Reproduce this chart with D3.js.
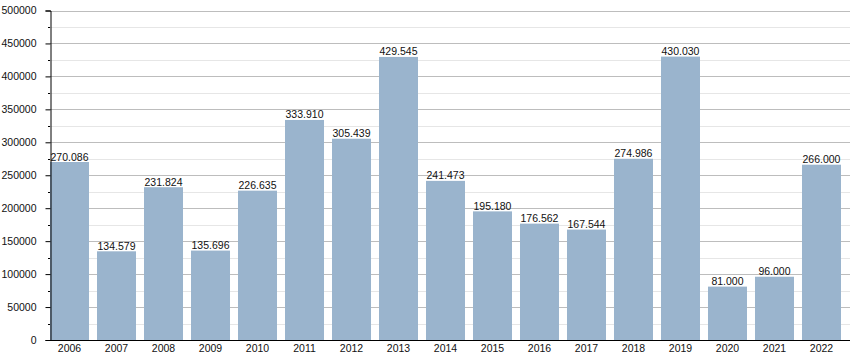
<!DOCTYPE html>
<html><head><meta charset="utf-8">
<script src="https://cdn.jsdelivr.net/npm/d3@7"></script>
<style>body{margin:0;background:#fff}svg{display:block}text{font-family:"Liberation Sans",Arial,sans-serif}</style>
</head><body>
<svg id="c" width="850" height="360"></svg>
<script>
const years = ["2006","2007","2008","2009","2010","2011","2012","2013","2014","2015","2016","2017","2018","2019","2020","2021","2022"];
const values = [270086,134579,231824,135696,226635,333910,305439,429545,241473,195180,176562,167544,274986,430030,81000,96000,266000];
const yTicks = [0,50000,100000,150000,200000,250000,300000,350000,400000,450000,500000];
const yMinor = [25000,75000,125000,175000,225000,275000,325000,375000,425000,475000];

const svg = d3.select("#c");
const L = 50, R = 850, T = 10.5, B = 340;
const FS = 10.5;
const x = d3.scaleBand().domain(years).range([L, 841]).paddingInner(0.17).paddingOuter(0);
const y = d3.scaleLinear().domain([0, 500000]).range([B, T]);

// minor grid
svg.append("g").selectAll("line").data(yMinor).join("line")
  .attr("x1", L).attr("x2", R).attr("y1", d => Math.round(y(d))+0.5).attr("y2", d => Math.round(y(d))+0.5)
  .attr("stroke", "#e6e6e6").attr("stroke-width", 1);
// major grid
svg.append("g").selectAll("line").data(yTicks.slice(1)).join("line")
  .attr("x1", L).attr("x2", R).attr("y1", d => Math.round(y(d))+0.5).attr("y2", d => Math.round(y(d))+0.5)
  .attr("stroke", "#bdbdbd").attr("stroke-width", 1);

// bars
svg.append("g").selectAll("rect").data(values).join("rect")
  .attr("x", (d,i) => x(years[i])).attr("width", x.bandwidth())
  .attr("y", d => y(d)).attr("height", d => B - y(d))
  .attr("fill", "#9ab4cd");

// value labels
const fmt = d3.formatLocale({decimal: ",", thousands: ".", grouping: [3], currency: ["",""]}).format(",d");
svg.append("g").selectAll("text").data(values).join("text")
  .attr("x", (d,i) => x(years[i]) + x.bandwidth()/2).attr("y", d => y(d) - 1.5)
  .attr("text-anchor", "middle").attr("font-size", FS).attr("fill", "#111")
  .text(d => fmt(d));

// y axis
const ya = svg.append("g").attr("transform", `translate(${L+0.5},0)`)
  .call(d3.axisLeft(y).tickValues(yTicks).tickSize(5).tickPadding(9).tickFormat(d3.format("d")));
ya.select(".domain").attr("stroke", "#000");
ya.selectAll(".tick line").attr("stroke", "#000");
ya.selectAll("text").attr("font-size", FS).attr("fill", "#111").style("font-family", '"Liberation Sans",Arial,sans-serif');
svg.append("g").selectAll("line").data(yMinor).join("line")
  .attr("x1", L-2).attr("x2", L).attr("y1", d => Math.round(y(d))+0.5).attr("y2", d => Math.round(y(d))+0.5)
  .attr("stroke", "#000");

// x axis
svg.append("line").attr("x1", L).attr("x2", R).attr("y1", B+0.5).attr("y2", B+0.5).attr("stroke", "#000");
svg.append("g").selectAll("text").data(years).join("text")
  .attr("x", d => x(d) + x.bandwidth()/2).attr("y", 352)
  .attr("text-anchor", "middle").attr("font-size", FS).attr("fill", "#111")
  .text(d => d);
</script>
</body></html>
